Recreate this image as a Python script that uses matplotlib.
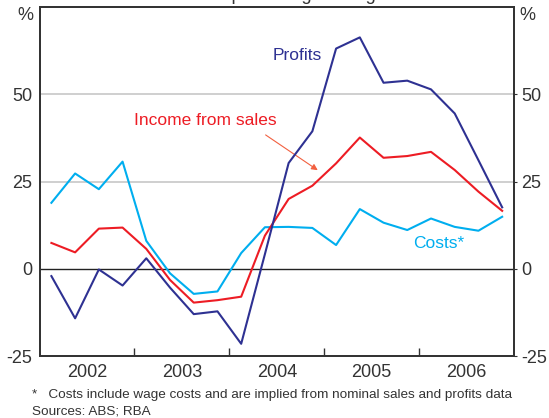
import matplotlib.pyplot as plt
import numpy as np

plt.rcParams["font.family"] = ["Liberation Sans", "DejaVu Sans"]
plt.rcParams["axes.unicode_minus"] = False

# quarterly, 2002 Q1 to 2006 Q4, year-ended % change
quarters = np.arange(20)
profits = [-2.1, -14.2, -0.2, -4.8, 3.0, -5.4, -13.0, -12.2, -21.5, 4.2,
           30.3, 39.4, 63.1, 66.3, 53.3, 53.9, 51.4, 44.5, 31.1, 17.6]
income = [7.4, 4.7, 11.5, 11.8, 5.7, -3.2, -9.7, -9.0, -8.0, 9.5,
          20.0, 23.8, 30.2, 37.6, 31.8, 32.3, 33.5, 28.3, 22.1, 16.6]
costs = [18.9, 27.3, 22.8, 30.7, 8.0, -1.3, -7.2, -6.5, 4.5, 11.9,
         12.0, 11.7, 6.8, 17.1, 13.2, 11.1, 14.4, 12.0, 10.9, 14.9]
years = [2002, 2003, 2004, 2005, 2006]
yticks = [-25, 0, 25, 50]

x = 2002 + (quarters + 0.5) / 4

c_prof = "#2e3192"
c_inc = "#ed1c24"
c_cost = "#00aeef"
c_text = "#333333"

fig = plt.figure(figsize=(5.49, 4.18), dpi=100)
ax = fig.add_axes([0.072, 0.1483, 0.8643, 0.8349])

ax.set_xlim(2002, 2007)
ax.set_ylim(-25, 75)

for v in [25, 50]:
    ax.axhline(v, color="#cccccc", lw=1.3, zorder=1)
ax.axhline(0, color="#222222", lw=1.0, zorder=1)

ax.plot(x, costs, color=c_cost, lw=1.5, zorder=3)
ax.plot(x, income, color=c_inc, lw=1.5, zorder=3)
ax.plot(x, profits, color=c_prof, lw=1.5, zorder=4)

ax.text(2004.713, 61.0, "Profits", color=c_prof, fontsize=12.5,
        ha="center", va="center")
ax.text(2003.744, 42.6, "Income from sales", color=c_inc, fontsize=12.5,
        ha="center", va="center")
ax.text(2006.21, 7.2, "Costs*", color=c_cost, fontsize=12.5,
        ha="center", va="center")
ax.annotate("", xy=(2004.956, 27.8), xytext=(2004.358, 38.8),
            arrowprops=dict(arrowstyle="-|>", color="#f26040", lw=0.8,
                            mutation_scale=9))

# x axis: ticks at year boundaries, labels in mid-year
ax.set_xticks(years[1:])
ax.set_xticklabels([])
ax.set_xticks([y + 0.5 for y in years], minor=True)
ax.set_xticklabels([str(y) for y in years], minor=True)
ax.tick_params(axis="x", which="major", direction="in", length=6,
               color=c_text, width=1)
ax.tick_params(axis="x", which="minor", length=0, labelsize=13,
               labelcolor=c_text, pad=6)

ax.set_yticks(yticks)
ax.tick_params(axis="y", length=0, labelsize=13, labelcolor=c_text, pad=5)

ax2 = ax.twinx()
ax2.set_ylim(-25, 75)
ax2.set_yticks(yticks)
ax2.tick_params(axis="y", length=2, labelsize=13, labelcolor=c_text,
                color=c_text, pad=3)

for a in (ax, ax2):
    for s in a.spines.values():
        s.set_color(c_text)
        s.set_linewidth(1.3)

fig.text(25 / 549, 1 - 15 / 418, "%", fontsize=13, color=c_text,
         ha="center", va="center")
fig.text(527 / 549, 1 - 15 / 418, "%", fontsize=13, color=c_text,
         ha="center", va="center")

# subtitle cut off at the top of the image
fig.text(134 / 549, 1.0, "Year-ended percentage change", fontsize=13,
         color=c_text, ha="left", va="baseline")

fig.text(32 / 549, 1 - 395 / 418,
         "*   Costs include wage costs and are implied from nominal sales and profits data",
         fontsize=9.7, color=c_text, ha="left", va="center")
fig.text(32 / 549, 1 - 411 / 418, "Sources: ABS; RBA",
         fontsize=9.7, color=c_text, ha="left", va="center")

fig.savefig("out.png", dpi=100)
